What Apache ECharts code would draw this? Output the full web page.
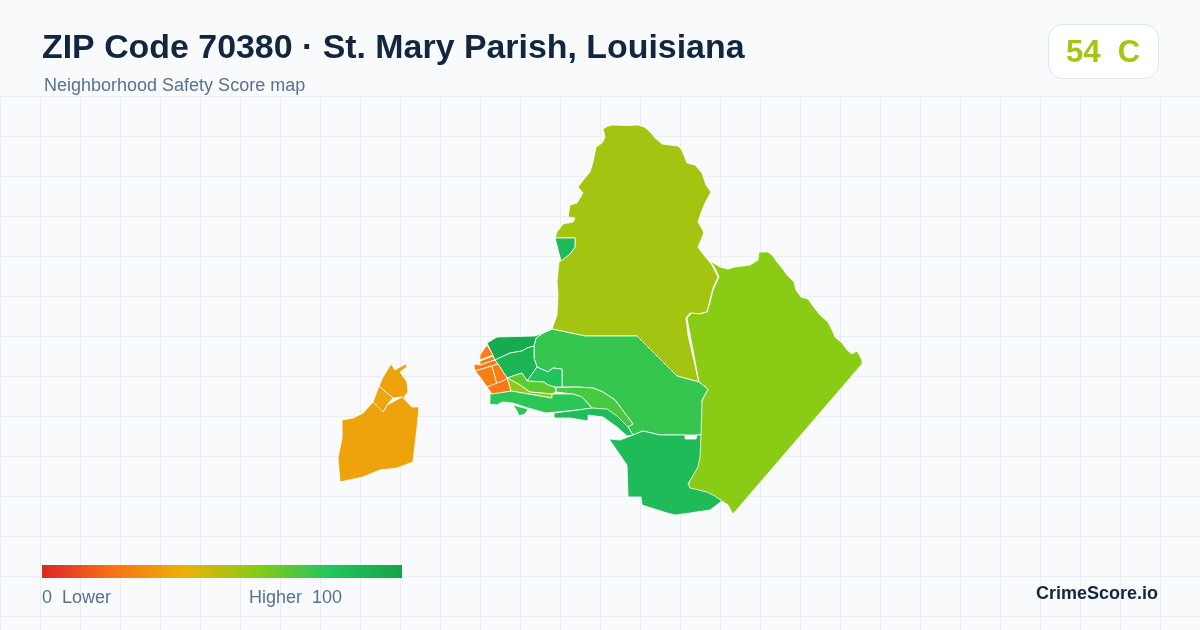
<!DOCTYPE html>
<html>

<head>
    <meta charset="utf-8">
    <title>ZIP Code 70380</title>
    <script src="https://cdn.jsdelivr.net/npm/echarts@6/dist/echarts.min.js"></script>
    <style>
        html, body { margin: 0; padding: 0; background: #f8fafc; }
    </style>
</head>

<body>
    <main id="main" style="width: 1200px; height: 630px;"></main>

    <script>
        var TITLE = 'ZIP Code 70380 · St. Mary Parish, Louisiana';
        var SUBTITLE = 'Neighborhood Safety Score map';
        var BADGE_TEXT = '54  C';
        var BRAND = 'CrimeScore.io';
        var SCALE_LOW_LABEL = '0  Lower';
        var SCALE_HIGH_LABEL = 'Higher  100';
        var SCALE_COLORS = ['#dc2626', '#f97316', '#eab308', '#84cc16', '#22c55e', '#16a34a'];

        // tract names and safety scores
        var tractNames = [
            'north', 'east', 'center', 'south', 'pocket', 'northwest', 'midwest', 'inner',
            'limeA', 'limeB', 'stripC', 'coastD', 'coastE',
            'westMain', 'westMid', 'westTop',
            'or1', 'or2', 'or3', 'or4', 'or5', 'or6'
        ];
        var tractScores = [
            54, 59, 76, 86, 86, 96, 90, 81,
            68, 58, 72, 78, 85,
            35, 36, 35,
            23, 23, 22, 24, 23, 22
        ];
        // tract outlines, one list of rings per tract
        var tractOutlines = [
            [[[603,129],[607,126.5],[612,125],[625,125.5],[638,125],[644,127],[648,130],[652,134],[655,138],[662,144],[670,145],[678,146],[681,149],[683,153],[685,158],[687,163],[695,165],[702,173],[704,179],[706,185],[711,192],[705,203],[701,213],[698,222],[701,227],[704,233],[701,240],[698,247],[703,254],[708,260],[712,265],[718,277],[713,288],[710,300],[707,312],[698,314],[690,313],[686,318],[688,335],[698.7,381.7],[677,376],[637,336],[612,336],[585,336],[552,329],[557,315],[558,295],[557,282],[559,262],[570,254],[575,247],[575,238],[555,238],[557,232],[563,224],[573,222],[575,218],[568,217],[570,205],[577,203],[583,193],[578,187],[585,178],[590,172],[593,162],[596,147],[602,143],[605,137]]],
            [[[710,261],[720,267],[728,269],[735,267],[750,265],[758,260],[759,252],[768,252],[773,256],[777,262],[782,268],[787,275],[794,282],[796,290],[801,297],[808,299],[813,306],[820,315],[828,322],[832,330],[835,337],[842,343],[847,350],[852,354],[857,351],[862,360],[862,364],[733,514],[728,505],[722,501],[710,494],[695,491],[688,487],[690,480],[697,465],[700,437],[701,403],[708,389],[699,382],[687,318],[692,313],[700,314],[707,312],[710,303],[713,290],[719,277],[715,268]]],
            [[[552,329],[585,336],[612,336],[637,336],[677,376],[699,382],[708,389],[702,400],[701,435],[685,435],[660,435],[643,431],[633,435],[628,427],[633,424],[615,400],[603,392],[593,388],[577,387],[562,387],[562,369],[553,368],[548,372],[537,367],[534,358],[534,346],[536,338],[543,333]]],
            [[[609,439],[620,440],[628,437],[633,435],[643,431],[660,435],[685,435],[685,439],[696,439],[697,435],[701,435],[700,457],[698,467],[688,484],[690,488],[707,492],[715,496],[722,501],[710,510],[690,513],[675,515],[667,513],[642,505],[641,497],[628,497],[627,465]]],
            [[[555,238],[575,238],[575,247],[570,254],[561,261]]],
            [[[487,343],[497,337],[535,336],[543,333],[552,329],[543,333],[536,338],[534,346],[527,348],[522,351],[510,353],[495,360]]],
            [[[495,360],[510,353],[522,351],[527,348],[534,346],[534,358],[537,367],[527,381],[522,373],[507,378]]],
            [[[537,367],[548,372],[553,368],[562,369],[562,387],[555,387],[548,385],[544,382],[527,381]]],
            [[[507,378],[522,373],[527,381],[544,382],[548,385],[555,387],[556,392],[552,394],[530,392],[520,385]]],
            [[[507,378],[520,385],[530,392],[552,394],[552,398],[511,391]]],
            [[[556,387.5],[577,387],[593,388],[603,392],[615,400],[633,424],[628,427],[617,416],[592,408],[582,397],[573,394],[556,392]]],
            [[[490,394],[511,391],[552,398],[552,394],[573,394],[582,397],[592,408],[578,410],[557,412],[546,413],[528,408],[513,403],[502,402],[503,402],[497,405],[489,404],[490,402]], [[513,405],[528,409],[525,414],[519,416],[517,411]]],
            [[[554,413],[578,410],[592,408],[607,409],[617,416],[628,427],[633,435],[627,436],[617,427],[603,417],[588,415],[588,421],[570,418],[554,418]]],
            [[[342,420],[353,418],[363,413],[373,402],[383,412],[387,405],[402,397],[408,403],[412,407],[419,407],[417,428],[413,462],[397,468],[380,470],[363,477],[340,482],[338,458],[342,438]]],
            [[[373,402],[379,386],[393,398],[387,405],[383,412]]],
            [[[379,386],[383,377],[391,364],[395,370],[400,367],[406,364],[407,367],[400,372],[407,382],[408,392],[404,397],[408,402],[402,397],[393,398]]],
            [[[487,345],[493,355],[480,360],[480,355]]],
            [[[480,361],[493,356],[495,360],[480,365]]],
            [[[474,364],[480,365],[495,360],[498,364],[475,371]]],
            [[[475,371],[492,366],[497,384],[487,387],[480,377]]],
            [[[492,366],[498,364],[507,378],[505,380],[497,384]]],
            [[[487,387],[505,380],[507,378],[511,391],[492,394]]]
        ];

        var geoFeatures = tractNames.map(function (name, i) {
            return {
                type: 'Feature',
                properties: { name: name },
                geometry: { type: 'MultiPolygon', coordinates: tractOutlines[i].map(function (ring) { return [ring]; }) }
            };
        });
        echarts.registerMap('zip70380', { type: 'FeatureCollection', features: geoFeatures });

        var myChart = echarts.init(document.getElementById('main'), null, { renderer: 'canvas' });

        var GRID_LINE = { show: true, lineStyle: { color: '#e7eff4', width: 1 } };

        var scaleStops = SCALE_COLORS.map(function (color, i) {
            return { offset: i / (SCALE_COLORS.length - 1), color: color };
        });

        var option = {
            animation: false,
            backgroundColor: '#f8fafc',
            textStyle: { fontFamily: 'Liberation Sans' },
            title: [
                {
                    text: TITLE,
                    left: 42,
                    top: 32,
                    padding: 0,
                    textStyle: { fontSize: 33.9, fontWeight: 'bold', color: '#12263f', fontFamily: 'Liberation Sans' }
                },
                {
                    text: SUBTITLE,
                    left: 44,
                    top: 77,
                    padding: 0,
                    textStyle: { fontSize: 18, fontWeight: 'normal', color: '#5a7190', fontFamily: 'Liberation Sans' }
                },
                {
                    text: SCALE_LOW_LABEL,
                    left: 42,
                    top: 589,
                    padding: 0,
                    textStyle: { fontSize: 18, fontWeight: 'normal', color: '#5a7190', fontFamily: 'Liberation Sans' }
                },
                {
                    text: SCALE_HIGH_LABEL,
                    left: 249,
                    top: 589,
                    padding: 0,
                    textStyle: { fontSize: 18, fontWeight: 'normal', color: '#5a7190', fontFamily: 'Liberation Sans' }
                },
                {
                    text: BRAND,
                    right: 42,
                    top: 585,
                    padding: 0,
                    textStyle: { fontSize: 18, fontWeight: 'bold', color: '#12263f', fontFamily: 'Liberation Sans' }
                }
            ],
            grid: { left: 0, top: 96, width: 1200, height: 534, show: false },
            xAxis: {
                type: 'value', min: 0, max: 1200, interval: 40, silent: true,
                axisLine: { show: false }, axisTick: { show: false }, axisLabel: { show: false },
                splitLine: GRID_LINE
            },
            yAxis: {
                type: 'value', min: 0, max: 534, interval: 40, inverse: true, silent: true,
                axisLine: { show: false }, axisTick: { show: false }, axisLabel: { show: false },
                splitLine: GRID_LINE
            },
            visualMap: {
                type: 'continuous',
                show: false,
                min: 0,
                max: 100,
                seriesIndex: 0,
                inRange: { color: SCALE_COLORS }
            },
            graphic: [
                {
                    // score scale bar, square corners like the reference
                    type: 'rect',
                    z: 10,
                    shape: { x: 42, y: 565, width: 360, height: 13 },
                    style: { fill: new echarts.graphic.LinearGradient(0, 0, 1, 0, scaleStops) },
                    silent: true
                },
                {
                    type: 'rect',
                    z: 10,
                    shape: { x: 1048.5, y: 24.5, width: 110, height: 54, r: 14 },
                    style: { fill: '#ffffff', stroke: '#dfe6ee', lineWidth: 1 },
                    silent: true
                },
                {
                    type: 'text',
                    z: 11,
                    x: 1103,
                    y: 53,
                    silent: true,
                    style: {
                        text: BADGE_TEXT,
                        fill: '#a3c614',
                        font: 'bold 31px "Liberation Sans"',
                        textAlign: 'center',
                        textVerticalAlign: 'middle'
                    }
                }
            ],
            series: [
                {
                    type: 'map',
                    map: 'zip70380',
                    projection: {
                        project: function (p) { return p; },
                        unproject: function (p) { return p; }
                    },
                    boundingCoords: [[0, 0], [1200, 630]],
                    aspectScale: 1,
                    left: 0,
                    top: 0,
                    width: 1200,
                    height: 630,
                    roam: false,
                    silent: true,
                    label: { show: false },
                    emphasis: { disabled: true },
                    select: { disabled: true },
                    itemStyle: { borderColor: '#ffffff', borderWidth: 0.8 },
                    data: tractNames.map(function (name, i) {
                        return { name: name, value: tractScores[i] };
                    })
                }
            ]
        };

        myChart.setOption(option);
    </script>
</body>

</html>
